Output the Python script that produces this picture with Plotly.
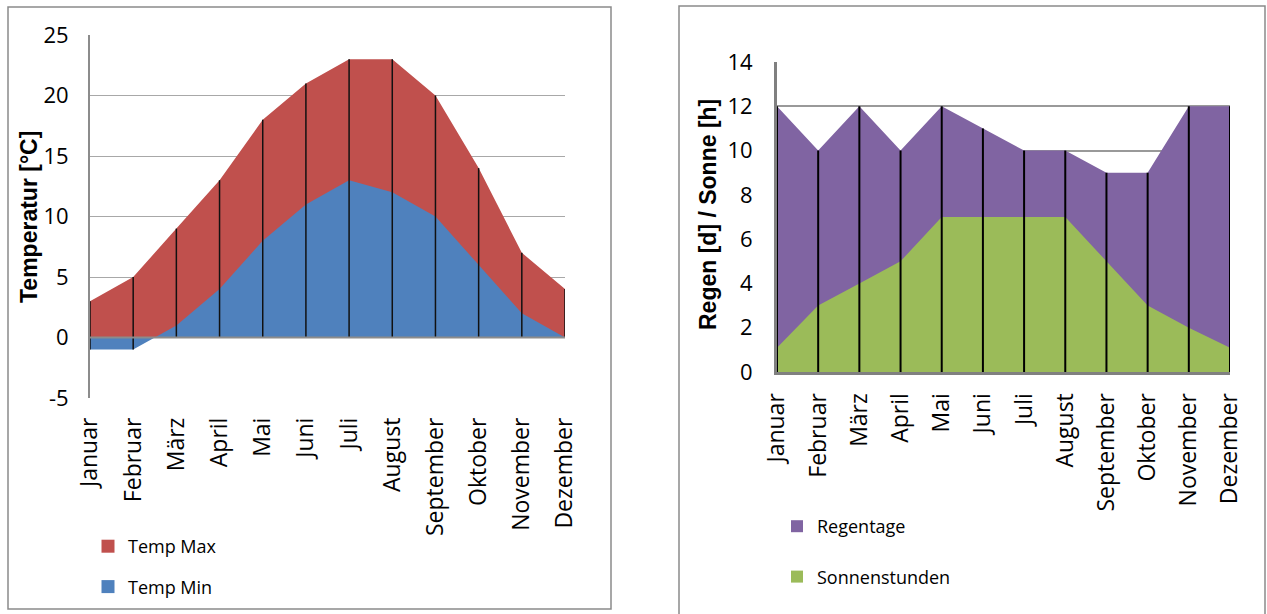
import plotly.graph_objects as go

# Monthly climate values
months = ["Januar", "Februar", "März", "April", "Mai", "Juni", "Juli",
          "August", "September", "Oktober", "November", "Dezember"]
temp_max = [3, 5, 9, 13, 18, 21, 23, 23, 20, 14, 7, 4]
temp_min = [-1, -1, 1, 4, 8, 11, 13, 12, 10, 6, 2, 0]
regentage = [12, 10, 12, 10, 12, 11, 10, 10, 9, 9, 12, 12]
sonnenstunden = [1.1, 3, 4, 5, 7, 7, 7, 7, 5, 3, 2, 1.1]

# axis tick values / labels
temp_ticks = [-5, 0, 5, 10, 15, 20, 25]
temp_ticklabels = ["-5", "0", "5", "10", "15", "20", "25"]
rain_ticks = [0, 2, 4, 6, 8, 10, 12, 14]

W, H = 1267, 614
RED, BLUE = "#C0504D", "#4F81BD"
PURPLE, GREEN = "#8064A2", "#9BBB59"
FONT = "Open Sans"


def px(x):
    return x / W


def py(y):
    return 1 - y / H


def drop_lines(cats, lows, highs):
    xs, ys = [], []
    for c, lo, hi in zip(cats, lows, highs):
        xs += [c, c, None]
        ys += [min(lo, 0), hi, None]
    return xs, ys


fig = go.Figure()

# --- left panel: temperatures ---
fig.add_trace(go.Scatter(x=months, y=temp_max, mode="lines", fill="tozeroy",
                         fillcolor=RED, line=dict(width=0, color=RED),
                         showlegend=False, xaxis="x", yaxis="y", hoverinfo="skip"))
fig.add_trace(go.Scatter(x=months, y=temp_min, mode="lines", fill="tozeroy",
                         fillcolor=BLUE, line=dict(width=0, color=BLUE),
                         showlegend=False, xaxis="x", yaxis="y", hoverinfo="skip"))
dx, dy = drop_lines(months, temp_min, temp_max)
fig.add_trace(go.Scatter(x=dx, y=dy, mode="lines", line=dict(color="#111111", width=1.5),
                         showlegend=False, xaxis="x", yaxis="y", hoverinfo="skip"))

# --- right panel: rain days / sunshine hours ---
fig.add_trace(go.Scatter(x=months, y=regentage, mode="lines", fill="tozeroy",
                         fillcolor=PURPLE, line=dict(width=0, color=PURPLE),
                         showlegend=False, xaxis="x2", yaxis="y2", hoverinfo="skip"))
fig.add_trace(go.Scatter(x=months, y=sonnenstunden, mode="lines", fill="tozeroy",
                         fillcolor=GREEN, line=dict(width=0, color=GREEN),
                         showlegend=False, xaxis="x2", yaxis="y2", hoverinfo="skip"))
rx, ry = drop_lines(months, [0] * len(months), regentage)
fig.add_trace(go.Scatter(x=rx, y=ry, mode="lines", line=dict(color="#000000", width=2),
                         showlegend=False, xaxis="x2", yaxis="y2", hoverinfo="skip"))

# legend entries (square swatches)
for name, color, leg, ax, ay, size in [
    ("Temp Max", RED, "legend", "x", "y", 13),
    ("Temp Min", BLUE, "legend", "x", "y", 13),
    ("Regentage", PURPLE, "legend2", "x2", "y2", 12),
    ("Sonnenstunden", GREEN, "legend2", "x2", "y2", 12),
]:
    fig.add_trace(go.Scatter(x=[None], y=[None], mode="markers", name=name,
                             marker=dict(symbol="square", size=size, color=color),
                             legend=leg, legendgroup=name, xaxis=ax, yaxis=ay))

tick_font = dict(family=FONT, size=22, color="black")

fig.update_layout(
    template="none",
    width=W, height=H,
    margin=dict(l=0, r=0, t=0, b=0, pad=0, autoexpand=False),
    paper_bgcolor="white", plot_bgcolor="white",
    font=dict(family=FONT, color="black"),
    xaxis=dict(domain=[px(90), px(565)], anchor="y", type="category",
               range=[0, 11], showgrid=False, showline=False, zeroline=False,
               automargin=False, tickangle=-90, ticklabelstandoff=14,
               tickfont=dict(family=FONT, size=23, color="black"), ticks=""),
    yaxis=dict(domain=[py(398), py(35)], anchor="x", range=[-5, 25],
               tickvals=temp_ticks, ticktext=temp_ticklabels,
               showgrid=True, gridcolor="#a8a8a8", gridwidth=1,
               showline=True, linecolor="#8c8c8c", linewidth=2,
               zeroline=False, automargin=False, ticklabelstandoff=15,
               tickfont=tick_font, ticks=""),
    xaxis2=dict(domain=[px(777), px(1230)], anchor="y2", type="category",
                range=[0, 11], showgrid=False, showline=True,
                linecolor="#808080", linewidth=3, zeroline=False,
                automargin=False, tickangle=-90, ticklabelstandoff=9,
                tickfont=dict(family=FONT, size=23, color="black"), ticks=""),
    yaxis2=dict(domain=[py(372), py(62)], anchor="x2", range=[0, 14],
                tickvals=rain_ticks,
                showgrid=True, gridcolor="#999999", gridwidth=1.5,
                showline=True, linecolor="#808080", linewidth=3,
                zeroline=False, automargin=False, ticklabelstandoff=17,
                tickfont=tick_font, ticks=""),
    legend=dict(x=px(88), y=py(528), xanchor="left", yanchor="top",
                traceorder="grouped", tracegroupgap=14,
                font=dict(family=FONT, size=18, color="black"),
                bgcolor="rgba(0,0,0,0)"),
    legend2=dict(x=px(777), y=py(508), xanchor="left", yanchor="top",
                 traceorder="grouped", tracegroupgap=24,
                 font=dict(family=FONT, size=18, color="black"),
                 bgcolor="rgba(0,0,0,0)"),
    shapes=[
        # chart frames
        dict(type="rect", xref="paper", yref="paper",
             x0=px(8), x1=px(611), y0=py(609), y1=py(7),
             line=dict(color="#8a8a8a", width=1.5), layer="below"),
        dict(type="rect", xref="paper", yref="paper",
             x0=px(679), x1=px(1265), y0=-0.05, y1=py(6),
             line=dict(color="#8a8a8a", width=1.5), layer="below"),
        # category axis of the temperature panel at 0 °C
        dict(type="line", xref="x domain", yref="y", x0=0, x1=1, y0=0, y1=0,
             line=dict(color="#8c8c8c", width=2), layer="above"),
    ],
    annotations=[
        dict(text="<b>Temperatur [°C]</b>", xref="paper", yref="paper",
             x=px(29), y=py(217), xanchor="center", yanchor="middle",
             textangle=-90, showarrow=False,
             font=dict(family="Liberation Sans", size=23, color="black")),
        dict(text="<b>Regen [d] / Sonne [h]</b>", xref="paper", yref="paper",
             x=px(708), y=py(215), xanchor="center", yanchor="middle",
             textangle=-90, showarrow=False,
             font=dict(family="Liberation Sans", size=23, color="black")),
    ],
)

fig.write_html("out.html")
